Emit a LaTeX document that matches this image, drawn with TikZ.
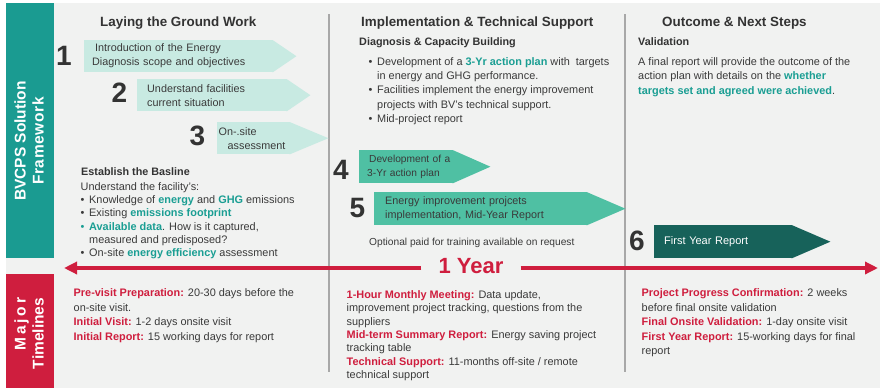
\documentclass[tikz,border=0pt]{standalone}
\usepackage{fontspec}
\setmainfont{Liberation Sans}
\usetikzlibrary{arrows.meta}
\definecolor{bvteal}{HTML}{1A9B91}
\definecolor{bvred}{HTML}{CF1E3E}
\definecolor{bggray}{HTML}{F1F2F1}
\definecolor{lightteal}{HTML}{C8EAE2}
\definecolor{midteal}{HTML}{4FC0A3}
\definecolor{darkteal}{HTML}{17625A}
\definecolor{txt}{HTML}{3A3A3A}
\definecolor{numgray}{HTML}{333333}
\definecolor{hlteal}{HTML}{1A9E93}
\definecolor{divgray}{HTML}{A8A8A8}
\newcommand\hl[1]{\textbf{\color{hlteal}#1}}
\newcommand\rd[1]{\textbf{\color{bvred}#1}}
\newcommand\itm{\makebox[8.5pt][l]{\textbullet}}
\newcommand\ind{\hspace*{8.5pt}}
\newcommand\pointtip[3]{\fill[#3] ([xshift=-0.8pt]#1.north east) -- ([xshift=#2]#1.east) -- ([xshift=-0.8pt]#1.south east) -- cycle;}
\tikzset{
  head/.style={anchor=base west, inner sep=0pt, text=numgray, font=\fontsize{13.4}{16}\selectfont\bfseries},
  num/.style={anchor=base, inner sep=0pt, text=numgray, font=\fontsize{28}{30}\selectfont\bfseries},
  stepbox/.style={anchor=north west, inner xsep=10pt, inner ysep=0pt, minimum height=32pt, align=left, text=txt, font=\fontsize{10.8}{14}\selectfont},
  para/.style={anchor=north west, inner sep=0pt, align=left, text=txt, font=\fontsize{10.9}{#1}\selectfont},
  para/.default=13.2,
  subhead/.style={anchor=north west, inner sep=0pt, text=numgray, font=\fontsize{10.8}{13}\selectfont\bfseries},
  sidetext/.style={rotate=90, inner sep=0pt, text=white, font=\fontsize{15.5}{18}\selectfont\bfseries},
  divider/.style={draw=divgray, line width=1.8pt},
  yline/.style={draw=bvred, line width=4.8pt, -{Triangle[length=13pt,width=12pt]}}
}
\begin{document}
\begin{tikzpicture}[x=1pt,y=-1pt]
  \useasboundingbox (0,0) rectangle (880,388);
  \fill[bggray] (6,3) rectangle (880,388);
  \fill[bvteal] (6,3) rectangle (54,258);
  \fill[bvred] (6,274) rectangle (54,388);
  \node[sidetext, align=center] (fwlabel) at (29,141) {BVCPS Solution\\{\addfontfeature{LetterSpace=4}Framework}};
  \node[sidetext, align=right] (tllabel) at (29,333.5) {{\addfontfeature{LetterSpace=18}Major}\\Timelines};
  \draw[divider] (329,14) -- (329,372); \draw[divider] (625,14) -- (625,372);
  \node[head] (h1) at (100,26) {Laying the Ground Work};
  \node[head] (h2) at (361,26) {Implementation \& Technical Support};
  \node[head] (h3) at (662,26) {Outcome \& Next Steps};
  \node[stepbox, fill=lightteal, inner xsep=8pt, text width=173pt] (s1) at (84,40) {\hspace*{3pt}Introduction of the Energy\\Diagnosis scope and objectives};
  \node[stepbox, fill=lightteal, text width=130pt] (s2) at (137,79) {Understand facilities\\current situation};
  \node[stepbox, fill=lightteal, inner xsep=1.5pt, text width=70pt] (s3) at (217,122) {On-.site\\\hspace*{9pt}assessment};
  \node[stepbox, fill=midteal, minimum height=33pt, inner xsep=0pt, text width=94pt, font=\fontsize{10.2}{14}\selectfont] (s4) at (359,150) {\hspace*{10pt}\mbox{Development of a}\\\hspace*{8pt}3-Yr action plan};
  \node[stepbox, fill=midteal, minimum height=33pt, inner xsep=11pt, text width=191pt] (s5) at (374,192) {Energy improvement projcets\\implementation, Mid-Year Report};
  \node[stepbox, fill=darkteal, minimum height=33pt, text width=118pt, text=white, font=\fontsize{11}{14}\selectfont] (s6) at (654,225) {First Year Report};
  \pointtip{s1}{23pt}{lightteal} \pointtip{s2}{23pt}{lightteal} \pointtip{s3}{38pt}{lightteal}
  \pointtip{s4}{37pt}{midteal} \pointtip{s5}{38pt}{midteal} \pointtip{s6}{38pt}{darkteal}
  \node[num] (n1) at (64,65.5) {1}; \node[num] (n2) at (119.5,102) {2};
  \node[num] (n3) at (197.5,145) {3}; \node[num] (n4) at (341,179) {4};
  \node[num] (n5) at (357.5,217) {5}; \node[num] (n6) at (637,250) {6};
  \node[subhead] (basehd) at (81,167.4) {Establish the Basline};
  \node[para] (basetxt) at (80.5,182.4) {Understand the facility's:\\\itm Knowledge of \hl{energy} and \hl{GHG} emissions\\\itm Existing \hl{emissions footprint}\\{\color{hlteal}\itm}\hl{Available data}. How is it captured,\\\ind measured and predisposed?\\\itm On-site \hl{energy efficiency} assessment};
  \node[subhead] (diaghd) at (359,37.4) {Diagnosis \& Capacity Building};
  \node[para=14.2] (diagtxt) at (368.5,57.4) {\itm Development of a \hl{3-Yr action plan} with~ targets\\\ind in energy and GHG performance.\\\itm Facilities implement the energy improvement\\\ind projects with BV's technical support.\\\itm Mid-project report};
  \node[subhead] (validhd) at (638,37.4) {Validation};
  \node[para=14.5] (validtxt) at (638,57.4) {A final report will provide the outcome of the\\action plan with details on the \hl{whether}\\\hl{targets set and agreed were achieved}.};
  \node[anchor=base west, inner sep=0pt, text=txt, font=\fontsize{10.2}{12}\selectfont] (opt) at (369,245.5) {Optional paid for training available on request};
  \node[para=14.5] (tl1) at (73.5,288.4) {\rd{Pre-visit Preparation:} 20-30 days before the\\on-site visit.\\\rd{Initial Visit:} 1-2 days onsite visit\\\rd{Initial Report:} 15 working days for report};
  \node[para=13.33] (tl2) at (346.5,290.4) {\rd{1-Hour Monthly Meeting:} Data update,\\improvement project tracking, questions from the\\suppliers\\\rd{Mid-term Summary Report:} Energy saving project\\tracking table\\\rd{Technical Support:} 11-months off-site / remote\\technical support};
  \node[para=14.5] (tl3) at (641.5,288.4) {\rd{Project Progress Confirmation:} 2 weeks\\before final onsite validation\\\rd{Final Onsite Validation:} 1-day onsite visit\\\rd{First Year Report:} 15-working days for final\\report};
  \node[inner xsep=17pt, inner ysep=0pt, text=bvred, font=\fontsize{22}{24}\selectfont\bfseries] (year) at (471,266.5) {1 Year};
  \coordinate (ltip) at (64,268); \coordinate (rtip) at (878,268);
  \draw[yline] (year.west |- ltip) -- (ltip);
  \draw[yline] (year.east |- rtip) -- (rtip);
\end{tikzpicture}
\end{document}
